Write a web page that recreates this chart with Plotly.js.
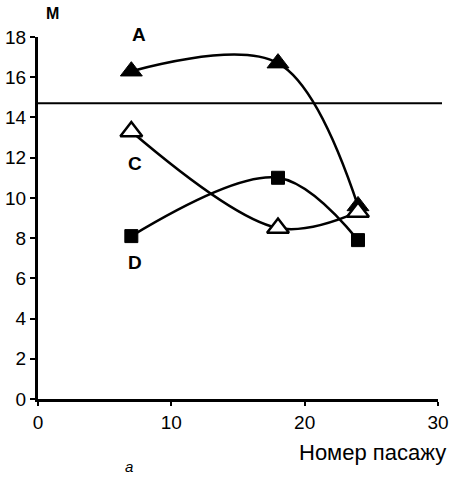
<!DOCTYPE html>
<html>
<head>
<meta charset="utf-8">
<script src="https://cdn.plot.ly/plotly-3.0.1.min.js"></script>
<style>html,body{margin:0;padding:0;background:#fff;}#chart{width:453px;height:477px;}</style>
</head>
<body>
<div id="chart"></div>
<script>
const passages = [7, 18, 24];
const seriesA = [16.3, 16.7, 9.6];
const seriesC = [13.3, 8.5, 9.3];
const seriesD = [8.1, 11.0, 7.9];
const refLevel = 14.7;
const xTicks = [0, 10, 20, 30];
const yTicks = [0, 2, 4, 6, 8, 10, 12, 14, 16, 18];

const FONT = 'Liberation Sans, Arial, sans-serif';

const traces = [
  {x: passages, y: seriesA, mode: 'lines+markers', line: {shape: 'spline', smoothing: 1.0, color: '#000', width: 2.5},
   marker: {symbol: 'triangle-up', size: 19, color: '#000', line: {color: '#000', width: 1}}, cliponaxis: false},
  {x: passages, y: seriesD, mode: 'lines+markers', line: {shape: 'spline', smoothing: 1.0, color: '#000', width: 2.5},
   marker: {symbol: 'square', size: 13, color: '#000', line: {color: '#000', width: 1}}, cliponaxis: false},
  {x: passages, y: seriesC, mode: 'lines+markers', line: {shape: 'spline', smoothing: 1.0, color: '#000', width: 2.5},
   marker: {symbol: 'triangle-up', size: 19, color: '#fff', line: {color: '#000', width: 2.5}}, cliponaxis: false}
];

const layout = {
  width: 453, height: 477,
  margin: {l: 38, r: 15, t: 37, b: 78},
  paper_bgcolor: '#fff', plot_bgcolor: '#fff',
  showlegend: false,
  font: {family: FONT, color: '#000', size: 18},
  xaxis: {range: [0, 30], tickvals: xTicks, ticktext: xTicks.map(String), showgrid: false, zeroline: false,
          showline: true, linecolor: '#000', linewidth: 3, ticks: 'outside', ticklen: 4, tickwidth: 2, tickcolor: '#000',
          tickfont: {family: FONT, size: 19, color: '#000'}, fixedrange: true},
  yaxis: {range: [0, 18], tickvals: yTicks, ticktext: yTicks.map(String), showgrid: false, zeroline: false,
          showline: true, linecolor: '#000', linewidth: 3, ticks: 'outside', ticklen: 5, tickwidth: 2, tickcolor: '#000',
          tickfont: {family: FONT, size: 19, color: '#000'}, fixedrange: true},
  shapes: [
    {type: 'line', xref: 'paper', x0: 0, x1: 1.01, yref: 'y', y0: refLevel, y1: refLevel, line: {color: '#000', width: 2}}
  ],
  annotations: [
    {text: '<b>M</b>', xref: 'paper', yref: 'paper', x: 0.035, xanchor: 'center', y: 1.064, yanchor: 'middle', showarrow: false, font: {family: FONT, size: 16}},
    {text: '<b>A</b>', xref: 'paper', yref: 'paper', x: 0.253, xanchor: 'center', y: 1.006, yanchor: 'middle', showarrow: false, font: {family: FONT, size: 19}},
    {text: '<b>C</b>', xref: 'x', yref: 'y', x: 7.3, xanchor: 'center', y: 11.7, yanchor: 'middle', showarrow: false, font: {family: FONT, size: 19}},
    {text: '<b>D</b>', xref: 'x', yref: 'y', x: 7.3, xanchor: 'center', y: 6.8, yanchor: 'middle', showarrow: false, font: {family: FONT, size: 19}},
    {text: 'Номер пасажу', xref: 'paper', yref: 'paper', x: 1.025, xanchor: 'right', y: -0.147, yanchor: 'middle', showarrow: false, font: {family: FONT, size: 22}},
    {text: '<i>a</i>', xref: 'paper', yref: 'paper', x: 0.228, xanchor: 'center', y: -0.186, yanchor: 'middle', showarrow: false, font: {family: FONT, size: 15}}
  ]
};

Plotly.newPlot('chart', traces, layout, {staticPlot: true, displayModeBar: false});
</script>
</body>
</html>
